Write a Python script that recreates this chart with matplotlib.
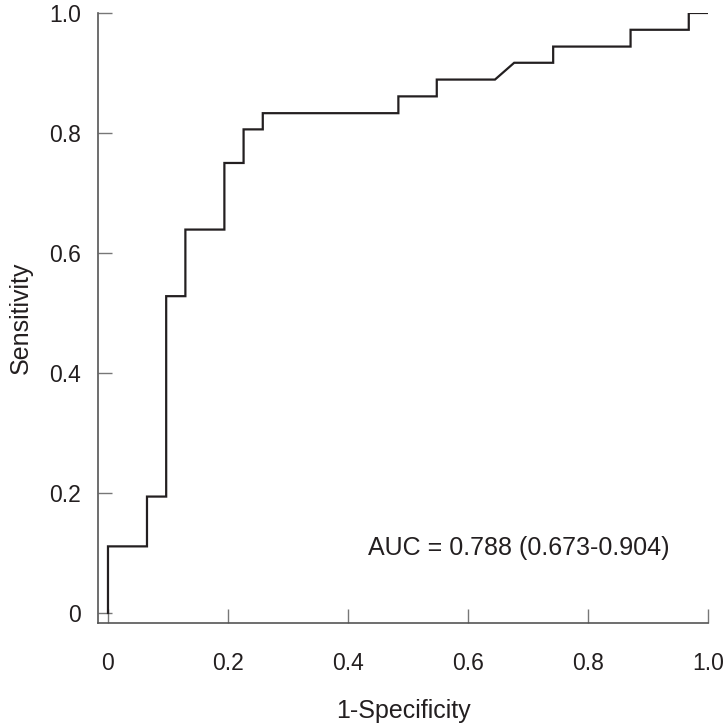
import matplotlib
matplotlib.use("Agg")
import matplotlib.pyplot as plt

plt.rcParams['font.family'] = ['Liberation Sans Narrow', 'Liberation Sans', 'DejaVu Sans']

# ROC curve vertices
fpr = [0, 0, 0.065, 0.065, 0.097, 0.097, 0.129, 0.129, 0.194, 0.194,
       0.226, 0.226, 0.258, 0.258, 0.484, 0.484, 0.548, 0.548, 0.645,
       0.677, 0.742, 0.742, 0.871, 0.871, 0.968, 0.968, 1.0]
tpr = [0, 0.111, 0.111, 0.194, 0.194, 0.528, 0.528, 0.639, 0.639, 0.750,
       0.750, 0.806, 0.806, 0.833, 0.833, 0.861, 0.861, 0.889, 0.889,
       0.917, 0.917, 0.944, 0.944, 0.972, 0.972, 1.0, 1.0]

ticks = [0, 0.2, 0.4, 0.6, 0.8, 1.0]
tick_labels = ['0', '0.2', '0.4', '0.6', '0.8', '1.0']
auc_text = 'AUC = 0.788 (0.673-0.904)'

fig = plt.figure(figsize=(7.23, 7.25), dpi=100)
ax = fig.add_axes([0.1355, 0.1407, 0.8437, 0.8414])

ax.plot(fpr, tpr, color='#231f20', lw=1.6, solid_joinstyle='miter')

ax.set_xlim(-0.0167, 1.0)
ax.set_ylim(-0.0167, 1.0)
ax.set_xticks(ticks)
ax.set_xticklabels(tick_labels)
ax.set_yticks(ticks)
ax.set_yticklabels(tick_labels)

for s in ['top', 'right']:
    ax.spines[s].set_visible(False)
for s in ['left', 'bottom']:
    ax.spines[s].set_color('#555555')
    ax.spines[s].set_linewidth(1.2)

ax.tick_params(axis='x', direction='in', length=10, width=1, color='#777777',
               pad=21, labelsize=16.5, labelcolor='#231f20')
ax.tick_params(axis='y', direction='in', length=10, width=1, color='#777777',
               pad=12, labelsize=16.5, labelcolor='#231f20')

ax.set_xlabel('1-Specificity', fontsize=18, color='#231f20', labelpad=17)
ax.set_ylabel('Sensitivity', fontsize=18, color='#231f20', labelpad=12)

ax.text(0.433, 0.108, auc_text, fontsize=18, color='#231f20', va='center', ha='left')

fig.savefig('out.png', dpi=100)
